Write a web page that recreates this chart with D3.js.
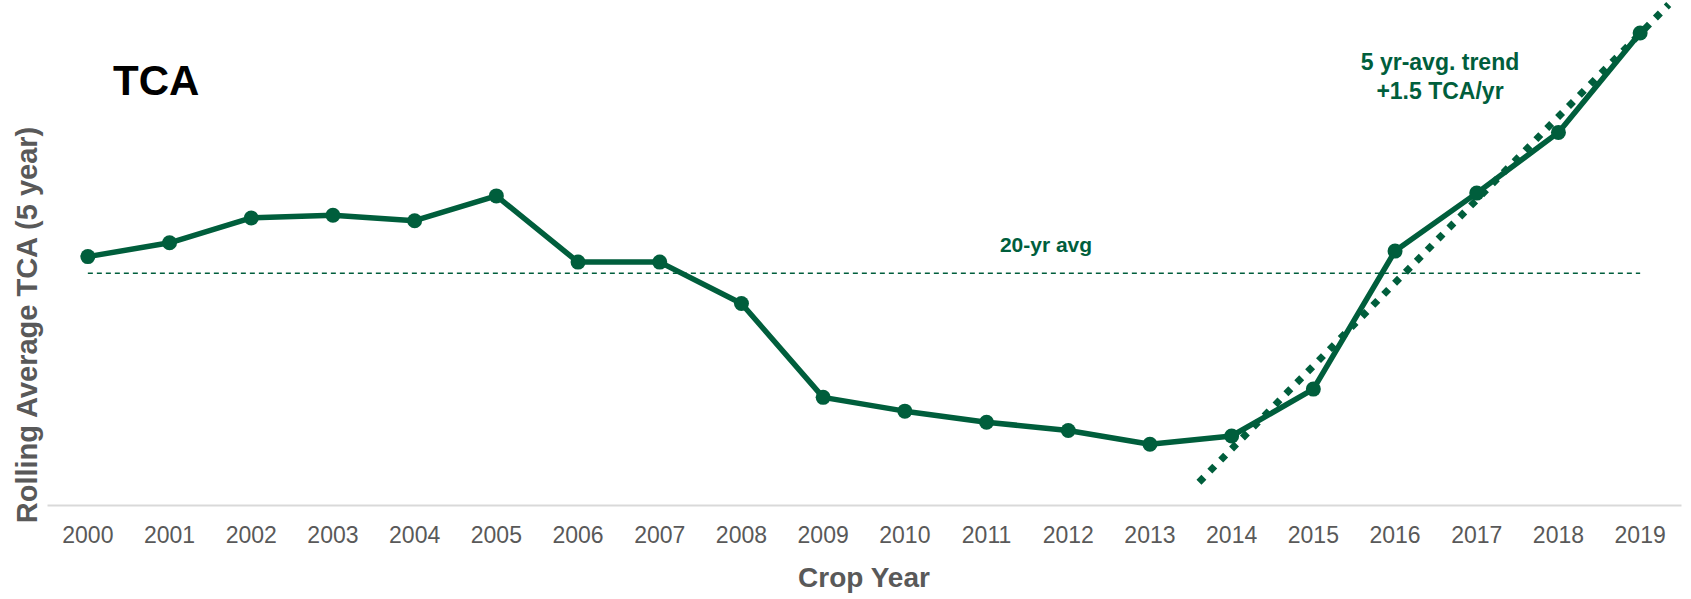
<!DOCTYPE html>
<html>
<head>
<meta charset="utf-8">
<script src="https://cdn.jsdelivr.net/npm/d3@7"></script>
<style>
  body { margin: 0; background: #fff; }
  text { font-family: "Liberation Sans", Arial, sans-serif; }
</style>
</head>
<body>
<div id="chart"></div>
<script>
// values (rolling 5-yr avg TCA)
const years = ["2000","2001","2002","2003","2004","2005","2006","2007","2008","2009",
               "2010","2011","2012","2013","2014","2015","2016","2017","2018","2019"];
const tca = [10.5, 10.75, 11.2, 11.25, 11.15, 11.6, 10.4, 10.4, 9.65, 7.95,
             7.7, 7.5, 7.35, 7.1, 7.25, 8.1, 10.6, 11.65, 12.75, 14.55];
const avg20 = 10.2;
const trendYears = ["2015","2016","2017","2018","2019"];
const trendExtent = [13.6, 19.35]; // year index the trend line is drawn over

const green = "#005E3C";
const grey = "#595959";

const width = 1691, height = 599;
const left = 47, right = 1681, base = 505;

const svg = d3.select("#chart")
  .append("svg")
  .attr("width", width)
  .attr("height", height);

// scales
const x = d3.scaleBand()
    .domain(years)
    .range([left, right]);
const y = d3.scaleLinear()
    .domain([6, 15])
    .range([base, base - 9 * 55.2]);
const cx = d => x(d) + x.bandwidth() / 2;
// numeric index -> pixel, for the trendline
const xi = d3.scaleLinear()
    .domain([0, years.length - 1])
    .range([cx(years[0]), cx(years[years.length - 1])]);

// x axis
const axis = svg.append("g")
  .attr("transform", "translate(0," + base + ")")
  .call(d3.axisBottom(x).tickSize(0).tickSizeOuter(0));
axis.select(".domain")
  .attr("stroke", "#d9d9d9")
  .attr("stroke-width", 2);
axis.selectAll("text")
  .attr("y", 38)
  .attr("dy", 0)
  .attr("fill", grey)
  .style("font-size", "23px")
  .style("font-family", "'Liberation Sans', Arial, sans-serif");

// 20-yr average dashed line
svg.append("line")
  .attr("x1", cx(years[0]))
  .attr("x2", cx(years[years.length - 1]))
  .attr("y1", y(avg20))
  .attr("y2", y(avg20))
  .attr("stroke", green)
  .attr("stroke-width", 1.5)
  .attr("stroke-dasharray", "5,4");

// linear trend over the last 5 years (drawn under the main line)
const tIdx = trendYears.map(t => years.indexOf(t));
const tVal = tIdx.map(i => tca[i]);
const mx = d3.mean(tIdx), my = d3.mean(tVal);
const slope = d3.sum(tIdx, (t, k) => (t - mx) * (tVal[k] - my)) / d3.sum(tIdx, t => (t - mx) * (t - mx));
const icpt = my - slope * mx;
svg.append("line")
  .attr("x1", xi(trendExtent[0]))
  .attr("y1", y(icpt + slope * trendExtent[0]))
  .attr("x2", xi(trendExtent[1]))
  .attr("y2", y(icpt + slope * trendExtent[1]))
  .attr("stroke", green)
  .attr("stroke-width", 7)
  .attr("stroke-dasharray", "7,8.5");

// main line
const line = d3.line()
  .x((d, i) => cx(years[i]))
  .y(d => y(d));
svg.append("path")
  .datum(tca)
  .attr("d", line)
  .attr("fill", "none")
  .attr("stroke", green)
  .attr("stroke-width", 5.5)
  .attr("stroke-linejoin", "round");

// markers
svg.selectAll(".dot")
  .data(tca)
  .enter().append("circle")
  .attr("class", "dot")
  .attr("cx", (d, i) => cx(years[i]))
  .attr("cy", d => y(d))
  .attr("r", 7.5)
  .attr("fill", green);

// titles and labels
svg.append("text")
  .attr("x", 113)
  .attr("y", 95)
  .style("font-size", "42px")
  .style("font-weight", "bold")
  .attr("fill", "#000")
  .text("TCA");

svg.append("text")
  .attr("transform", "translate(37,325) rotate(-90)")
  .attr("text-anchor", "middle")
  .style("font-size", "29px")
  .style("font-weight", "bold")
  .attr("fill", grey)
  .text("Rolling Average TCA (5 year)");

svg.append("text")
  .attr("x", (left + right) / 2)
  .attr("y", 587)
  .attr("text-anchor", "middle")
  .style("font-size", "28px")
  .style("font-weight", "bold")
  .attr("fill", grey)
  .text("Crop Year");

svg.append("text")
  .attr("x", 1046)
  .attr("y", 252)
  .attr("text-anchor", "middle")
  .style("font-size", "21px")
  .style("font-weight", "bold")
  .attr("fill", green)
  .text("20-yr avg");

svg.append("text")
  .attr("x", 1440)
  .attr("y", 70)
  .attr("text-anchor", "middle")
  .style("font-size", "23px")
  .style("font-weight", "bold")
  .attr("fill", green)
  .text("5 yr-avg. trend");

svg.append("text")
  .attr("x", 1440)
  .attr("y", 99)
  .attr("text-anchor", "middle")
  .style("font-size", "23px")
  .style("font-weight", "bold")
  .attr("fill", green)
  .text("+" + d3.format(".1f")(slope) + " TCA/yr");
</script>
</body>
</html>
